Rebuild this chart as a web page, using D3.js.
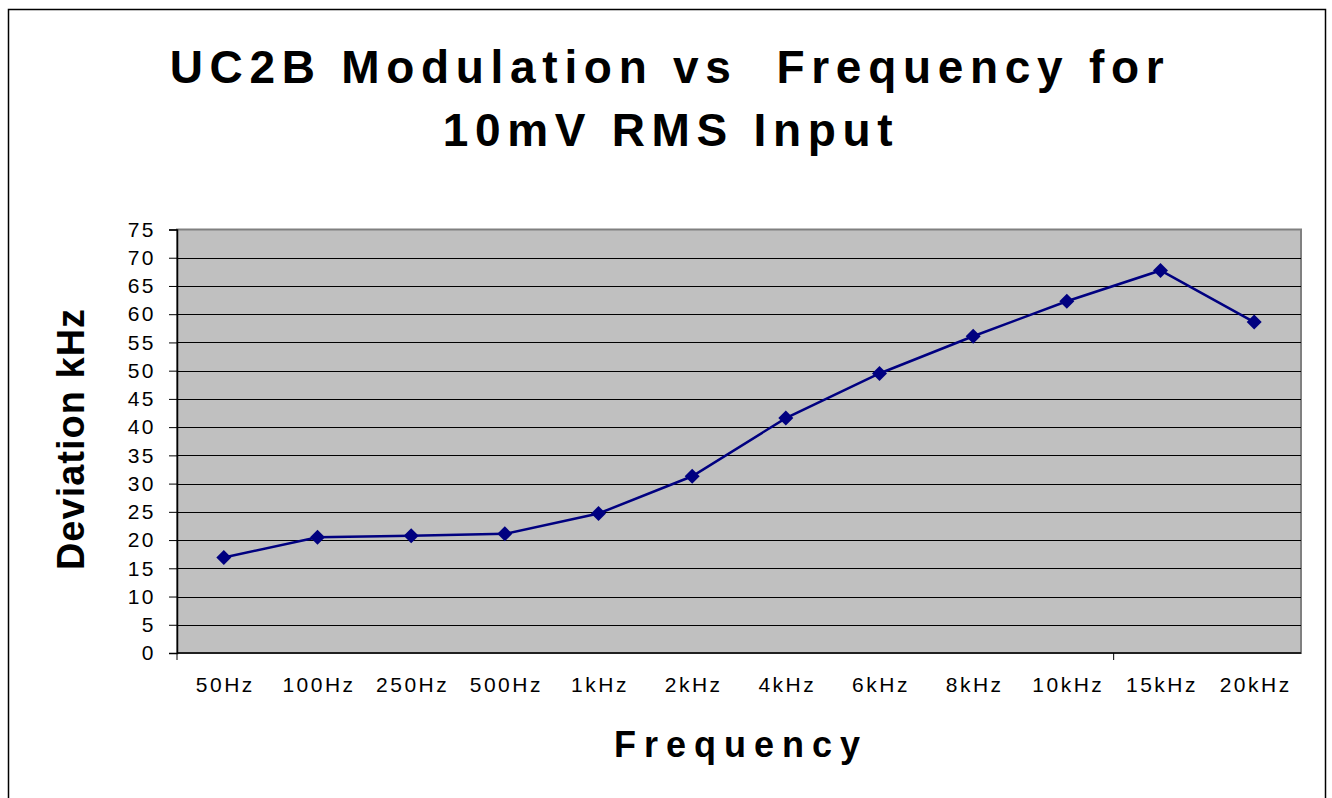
<!DOCTYPE html>
<html>
<head>
<meta charset="utf-8">
<script src="https://cdn.jsdelivr.net/npm/d3@7"></script>
<style>
  body { margin: 0; background: #fff; }
  svg { display: block; font-family: "Liberation Sans", Arial, sans-serif; }
</style>
</head>
<body>
<svg id="chart" width="1332" height="798"></svg>
<script>
// chart data
var categories = ["50Hz", "100Hz", "250Hz", "500Hz", "1kHz", "2kHz", "4kHz", "6kHz", "8kHz", "10kHz", "15kHz", "20kHz"];
var deviation = [16.9, 20.5, 20.75, 21.1, 24.7, 31.3, 41.6, 49.5, 56.1, 62.3, 67.75, 58.6];
var yTicks = [0, 5, 10, 15, 20, 25, 30, 35, 40, 45, 50, 55, 60, 65, 70, 75];

var svg = d3.select('#chart');
var plot = { left: 177, top: 229.5, right: 1301, bottom: 653 };

// outer frame
svg.append('rect')
   .attr('x', 8.5).attr('y', 9.5)
   .attr('width', 1317).attr('height', 800)
   .attr('fill', 'none')
   .attr('stroke', '#000')
   .attr('stroke-width', 1.5);

var x = d3.scaleBand()
          .domain(categories)
          .range([plot.left, plot.right]);

var y = d3.scaleLinear()
          .domain([0, 75])
          .range([plot.bottom, plot.top]);

// plot background
svg.append('rect')
   .attr('x', plot.left).attr('y', plot.top)
   .attr('width', plot.right - plot.left)
   .attr('height', plot.bottom - plot.top)
   .attr('fill', '#c0c0c0')
   .attr('stroke', '#808080')
   .attr('stroke-width', 2);

// gridlines
svg.append('g')
   .selectAll('line')
   .data(yTicks.filter(d => d > 0 && d < 75))
   .enter().append('line')
   .attr('x1', plot.left).attr('x2', plot.right)
   .attr('y1', d => Math.round(y(d)) + 0.5)
   .attr('y2', d => Math.round(y(d)) + 0.5)
   .attr('stroke', '#000')
   .attr('stroke-width', 1);

// y axis
svg.append('g')
   .attr('transform', 'translate(' + plot.left + ',0)')
   .call(d3.axisLeft(y).tickValues(yTicks).tickSize(8).tickPadding(13))
   .call(g => g.select('.domain').attr('stroke', '#000').attr('stroke-width', 1.5))
   .call(g => g.selectAll('.tick line').attr('stroke', '#000'))
   .call(g => g.selectAll('.tick text')
     .attr('font-size', '21px')
     .attr('font-family', '"Liberation Sans", Arial, sans-serif')
     .attr('letter-spacing', '2.5px')
     .attr('fill', '#000'));

// x axis line + ticks (every 10 categories, as in the source)
var step = x.step();
svg.append('line')
   .attr('x1', plot.left).attr('x2', plot.right)
   .attr('y1', plot.bottom).attr('y2', plot.bottom)
   .attr('stroke', '#000').attr('stroke-width', 1.5);
svg.append('g')
   .selectAll('line')
   .data([0, 10])
   .enter().append('line')
   .attr('x1', d => plot.left + d * step).attr('x2', d => plot.left + d * step)
   .attr('y1', plot.bottom).attr('y2', plot.bottom + 7)
   .attr('stroke', '#000');

svg.append('g')
   .selectAll('text')
   .data(categories)
   .enter().append('text')
   .attr('x', d => x(d) + x.bandwidth() / 2 + 1.5)
   .attr('y', 692)
   .attr('text-anchor', 'middle')
   .attr('font-size', '21px')
   .attr('letter-spacing', '2.5px')
   .text(d => d);

// series line
svg.append('path')
   .datum(deviation)
   .attr('fill', 'none')
   .attr('stroke', '#000080')
   .attr('stroke-width', 2.5)
   .attr('d', d3.line()
     .x((d, i) => x(categories[i]) + x.bandwidth() / 2)
     .y(d => y(d)));

// diamond markers
svg.append('g')
   .selectAll('path')
   .data(deviation)
   .enter().append('path')
   .attr('transform', (d, i) => 'translate(' + (x(categories[i]) + x.bandwidth() / 2) + ',' + y(d) + ')')
   .attr('d', 'M0,-7.5L7.5,0L0,7.5L-7.5,0Z')
   .attr('fill', '#000080');

// titles
var title = svg.append('text')
   .attr('text-anchor', 'middle')
   .attr('font-size', '46px')
   .attr('font-weight', 'bold')
   .attr('letter-spacing', '6.7px')
   .style('white-space', 'pre');
title.append('tspan').attr('x', 670).attr('y', 83).text('UC2B Modulation vs  Frequency for');
title.append('tspan').attr('x', 671).attr('y', 146).text('10mV RMS Input');

svg.append('text')
   .attr('x', 741).attr('y', 757)
   .attr('text-anchor', 'middle')
   .attr('font-size', '36px')
   .attr('font-weight', 'bold')
   .attr('letter-spacing', '8px')
   .text('Frequency');

svg.append('text')
   .attr('transform', 'translate(84,439) rotate(-90)')
   .attr('text-anchor', 'middle')
   .attr('font-size', '38px')
   .attr('font-weight', 'bold')
   .attr('letter-spacing', '1px')
   .text('Deviation kHz');
</script>
</body>
</html>
